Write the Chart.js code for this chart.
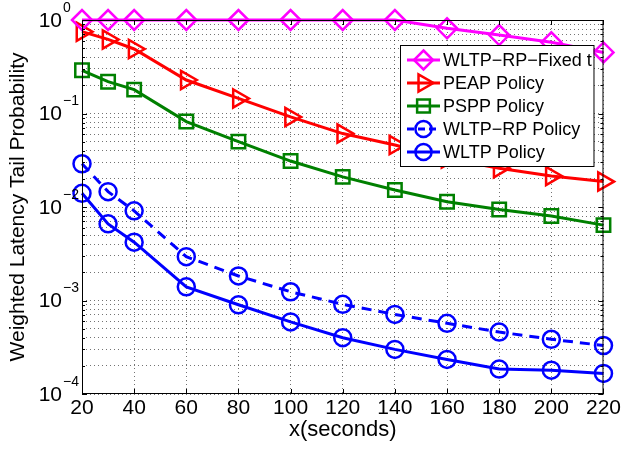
<!DOCTYPE html>
<html>
<head>
<meta charset="utf-8">
<script src="https://cdn.jsdelivr.net/npm/chart.js@4.4.1/dist/chart.umd.min.js"></script>
<style>
html, body { margin: 0; padding: 0; background: #fff; }
</style>
</head>
<body>
<canvas id="grafico" width="623" height="449"></canvas>
<script>
"use strict";

////////////////////////////////////////////////////// datos
var tiempos = [20, 30, 40, 60, 80, 100, 120, 140, 160, 180, 200, 220];
var fijoT = [1, 1, 1, 1, 1, 1, 1, 1, 0.815, 0.69, 0.577, 0.45];
var peap = [0.75, 0.62, 0.49, 0.228, 0.145, 0.092, 0.061, 0.046, 0.033, 0.026, 0.0215, 0.0187];
var pspp = [0.29, 0.219, 0.18, 0.082, 0.050, 0.031, 0.021, 0.0152, 0.0114, 0.0094, 0.008, 0.0064];
var wltpRp = [0.029, 0.0146, 0.0091, 0.00294, 0.00183, 0.00124, 0.00091, 0.00071, 0.00057, 0.00046, 0.000385, 0.00033];
var wltp = [0.014, 0.0066, 0.0042, 0.0014, 0.0009, 0.00059, 0.0004, 0.0003, 0.000234, 0.000185, 0.00018, 0.000166];
var ticksX = [20, 40, 60, 80, 100, 120, 140, 160, 180, 200, 220];
var potencias = [-4, -3, -2, -1, 0];
var nombres = ["WLTP\u2212RP\u2212Fixed t", "PEAP Policy", "PSPP Policy", "WLTP\u2212RP Policy", "WLTP Policy"];

const fuente = "'Liberation Sans', Arial, Helvetica, sans-serif";
Chart.defaults.font.family = fuente;
Chart.defaults.color = "#000";

////////////////////////////////////////////////////// series
var estilos = [
    { color: "#ff00ff", punto: "rectRot", radio: 10, giro: 0, dash: [] },
    { color: "#ff0000", punto: "triangle", radio: 10.5, giro: 90, dash: [] },
    { color: "#008000", punto: "rect", radio: 9.5, giro: 0, dash: [] },
    { color: "#0000ff", punto: "circle", radio: 8.5, giro: 0, dash: [10, 7] },
    { color: "#0000ff", punto: "circle", radio: 8.5, giro: 0, dash: [] },
];
var valores = [fijoT, peap, pspp, wltpRp, wltp];

function puntos(serie) {
    return tiempos.map((t, i) => ({ x: t, y: serie[i] }));
}

var misDatasets = valores.map((serie, i) => ({
    label: nombres[i],
    data: puntos(serie),
    borderColor: estilos[i].color,
    backgroundColor: "transparent",
    borderWidth: 3,
    borderDash: estilos[i].dash,
    pointStyle: estilos[i].punto,
    pointRadius: estilos[i].radio,
    pointRotation: estilos[i].giro,
    pointBorderWidth: 2.5,
    pointBorderColor: estilos[i].color,
    pointBackgroundColor: "transparent",
    tension: 0,
    clip: false,
}));

////////////////////////////////////////////////////// marcadores (leyenda)
function pintarMarcador(ctx, tipo, x, y, r, giro) {
    ctx.beginPath();
    if (tipo === "circle") {
        ctx.arc(x, y, r, 0, Math.PI * 2);
    } else if (tipo === "rect") {
        let s = r * Math.SQRT1_2;
        ctx.rect(x - s, y - s, 2 * s, 2 * s);
    } else if (tipo === "rectRot") {
        ctx.moveTo(x, y - r);
        ctx.lineTo(x + r, y);
        ctx.lineTo(x, y + r);
        ctx.lineTo(x - r, y);
        ctx.closePath();
    } else if (tipo === "triangle") {
        let a = giro * Math.PI / 180;
        for (let k = 0; k < 3; k++) {
            let px = x + Math.sin(a) * r;
            let py = y - Math.cos(a) * r;
            if (k === 0) ctx.moveTo(px, py); else ctx.lineTo(px, py);
            a += Math.PI * 2 / 3;
        }
        ctx.closePath();
    }
    ctx.stroke();
}

////////////////////////////////////////////////////// plugin marco + etiquetas
var marcoPlugin = {
    id: "marco",
    afterDatasetsDraw(chart) {
        const ctx = chart.ctx;
        const a = chart.chartArea;
        const sx = chart.scales.x;
        const sy = chart.scales.y;
        ctx.save();
        ctx.strokeStyle = "#000";
        ctx.lineWidth = 1;
        ctx.setLineDash([]);
        ctx.strokeRect(a.left + 0.5, a.top + 0.5, a.right - a.left - 1, a.bottom - a.top - 1);
        // ticks hacia dentro
        ctx.beginPath();
        ticksX.forEach((v) => {
            let px = Math.round(sx.getPixelForValue(v)) + 0.5;
            ctx.moveTo(px, a.bottom); ctx.lineTo(px, a.bottom - 5);
            ctx.moveTo(px, a.top); ctx.lineTo(px, a.top + 5);
        });
        sy.ticks.forEach((t) => {
            let py = Math.round(sy.getPixelForValue(t.value)) + 0.5;
            let largo = t.major ? 5 : 3;
            ctx.moveTo(a.left, py); ctx.lineTo(a.left + largo, py);
            ctx.moveTo(a.right, py); ctx.lineTo(a.right - largo, py);
        });
        ctx.stroke();
        // etiquetas 10^k
        ctx.fillStyle = "#000";
        ctx.textBaseline = "middle";
        potencias.forEach((k) => {
            let py = sy.getPixelForValue(Math.pow(10, k));
            ctx.font = "21px " + fuente;
            ctx.textAlign = "right";
            ctx.fillText("10", a.left - 20, py + 1);
            ctx.font = "14px " + fuente;
            ctx.textAlign = "left";
            ctx.fillText(k === 0 ? "0" : "\u2212" + Math.abs(k), a.left - 19, py - 12);
        });
        ctx.restore();
    },
    afterDraw(chart) {
        // leyenda estilo matlab
        const ctx = chart.ctx;
        const a = chart.chartArea;
        const x0 = a.left + 318, y0 = a.top + 25;
        const w = a.right - 10 - x0, h = 121;
        ctx.save();
        ctx.fillStyle = "#fff";
        ctx.fillRect(x0, y0, w, h);
        ctx.strokeStyle = "#000";
        ctx.lineWidth = 1;
        ctx.strokeRect(x0 + 0.5, y0 + 0.5, w, h);
        ctx.beginPath();
        ctx.rect(x0, y0, w, h);
        ctx.clip();
        nombres.forEach((n, i) => {
            let yy = y0 + 15 + i * 23;
            let e = estilos[i];
            ctx.strokeStyle = e.color;
            ctx.lineWidth = 3;
            ctx.setLineDash(e.dash.length ? [7, 4] : []);
            ctx.beginPath();
            ctx.moveTo(x0 + 7, yy);
            ctx.lineTo(x0 + 40, yy);
            ctx.stroke();
            ctx.setLineDash([]);
            ctx.lineWidth = 2.5;
            pintarMarcador(ctx, e.punto, x0 + 23.5, yy, e.radio * 0.95, e.giro);
            ctx.fillStyle = "#000";
            ctx.font = "18px " + fuente;
            ctx.textAlign = "left";
            ctx.textBaseline = "middle";
            ctx.fillText(n, x0 + 43, yy + 1);
        });
        ctx.restore();
    },
};

////////////////////////////////////////////////////// ticks log con menores
function ticksLog(scale) {
    var lista = [];
    for (let k = -4; k <= 0; k++) {
        for (let m = 1; m <= 9; m++) {
            let v = m * Math.pow(10, k);
            if (v > 1.0000001) break;
            lista.push({ value: v, major: m === 1 });
            if (k === 0) break;
        }
    }
    scale.ticks = lista;
}

////////////////////////////////////////////////////// MAIN
const ctx = document.getElementById("grafico").getContext("2d");
new Chart(ctx, {
    type: "line",
    data: { datasets: misDatasets },
    plugins: [marcoPlugin],
    options: {
        responsive: false,
        devicePixelRatio: 1,
        animation: false,
        layout: { padding: { left: 0, right: 19, top: 20, bottom: 0 } },
        plugins: { legend: { display: false }, tooltip: { enabled: false } },
        scales: {
            x: {
                type: "linear",
                min: 20,
                max: 220,
                afterBuildTicks: (s) => { s.ticks = ticksX.map((v) => ({ value: v })); },
                afterFit: (s) => { s.height = 55; },
                ticks: { font: { size: 21 }, padding: 2, maxRotation: 0, autoSkip: false },
                grid: { color: "rgba(0,0,0,0.55)", lineWidth: 1, drawTicks: false },
                border: { display: false, dash: [1, 3] },
                title: { display: true, text: "x(seconds)", font: { size: 22 }, padding: { top: 0, bottom: 6 } },
            },
            y: {
                type: "logarithmic",
                min: 0.0001,
                max: 1,
                afterBuildTicks: ticksLog,
                afterFit: (s) => { s.width = 82; },
                ticks: { display: false, autoSkip: false },
                grid: { color: "rgba(0,0,0,0.55)", lineWidth: 1, drawTicks: false },
                border: { display: false, dash: [1, 3] },
                title: { display: true, text: "Weighted Latency Tail Probability", font: { size: 21 }, padding: { top: 6, bottom: 0 } },
            },
        },
    },
});
</script>
</body>
</html>
